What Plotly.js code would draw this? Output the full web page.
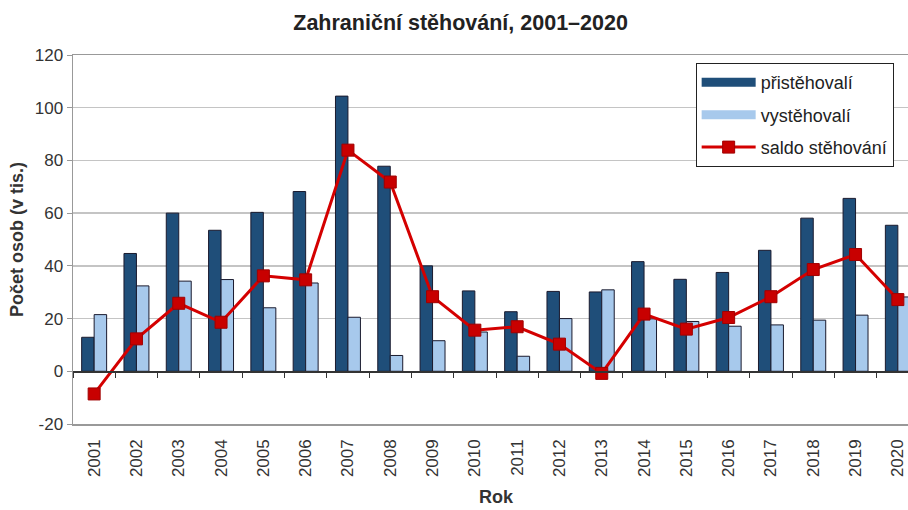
<!DOCTYPE html>
<html><head><meta charset="utf-8">
<script src="https://cdn.plot.ly/plotly-3.0.1.min.js"></script>
<style>html,body{margin:0;padding:0;overflow:hidden;background:#fff;width:908px;height:510px}#c{width:940px;height:510px}</style>
</head><body><div id="c"></div>
<script>
var years = ['2001','2002','2003','2004','2005','2006','2007','2008','2009','2010','2011','2012','2013','2014','2015','2016','2017','2018','2019','2020'];
var pristehovali = [12.9,44.7,60.0,53.5,60.3,68.2,104.4,77.8,40.0,30.5,22.6,30.3,30.1,41.6,34.9,37.5,45.9,58.1,65.6,55.4];
var vystehovali = [21.5,32.4,34.2,34.8,24.1,33.5,20.5,6.0,11.6,14.9,5.7,20.0,30.9,19.9,18.9,17.1,17.6,19.4,21.3,28.2];
var saldo = [-8.6,12.3,25.8,18.6,36.2,34.7,83.9,71.8,28.3,15.6,16.9,10.3,-0.8,21.7,16.0,20.4,28.3,38.6,44.3,27.2];
var yTickVals = [-20,0,20,40,60,80,100,120];
var yTickText = ['-20','0','20','40','60','80','100','120'];
var yMin = -20, yMax = 120;

var font = 'Liberation Sans, Arial, sans-serif';
var darkBlue = '#1f4e79', lightBlue = '#a7c9ec';
var traces = [
  {type:'bar', x:years, y:pristehovali, name:'přistěhovalí', showlegend:false,
   marker:{color:darkBlue, line:{color:'#1a1a2e', width:1}}},
  {type:'bar', x:years, y:vystehovali, name:'vystěhovalí', showlegend:false,
   marker:{color:lightBlue, line:{color:'#1a1a2e', width:1}}},
  /* legend-only entries drawn as wide bars, like the original legend */
  {type:'scatter', mode:'lines', x:[null], y:[null], name:'přistěhovalí', legendgroup:'a',
   line:{color:darkBlue, width:9}, hoverinfo:'skip'},
  {type:'scatter', mode:'lines', x:[null], y:[null], name:'vystěhovalí', legendgroup:'b',
   line:{color:lightBlue, width:9}, hoverinfo:'skip'},
  {type:'scatter', mode:'lines+markers', x:years, y:saldo, name:'saldo stěhování', legendgroup:'c',
   xaxis:'x2', line:{color:'#d40000', width:3},
   marker:{symbol:'square', size:12, color:'#c80000', line:{color:'#a00000', width:1}}}
];
var layout = {
  width:940, height:510,
  margin:{l:73, r:21, t:55, b:86},
  paper_bgcolor:'#fff', plot_bgcolor:'#fff',
  font:{family:font, color:'#333'},
  title:{text:'<b>Zahraniční stěhování, 2001–2020</b>', font:{size:21.5, color:'#222', family:font}, x:0.49, xanchor:'center', y:0.955, yanchor:'middle'},
  barmode:'group', bargap:0.41, bargroupgap:0,
  showlegend:true,
  legend:{x:0.736, y:0.978, xanchor:'left', yanchor:'top', bgcolor:'#fff', bordercolor:'#222', borderwidth:1,
    font:{size:18, color:'#222', family:font}, traceorder:'grouped', tracegroupgap:6, itemwidth:54},
  xaxis:{type:'category', range:[-0.5,19.5], tickangle:-90, ticks:'outside', ticklen:7, tickcolor:'rgba(0,0,0,0)',
    tickfont:{size:17, color:'#333'}, showline:true, linecolor:'#999', linewidth:1.5, mirror:true, showgrid:false,
    title:{text:'<b>Rok</b>', font:{size:18, color:'#333'}, standoff:14}},
  xaxis2:{type:'category', overlaying:'x', anchor:'free', position:(0-yMin)/(yMax-yMin), range:[-0.5,19.5],
    ticks:'outside', tickson:'boundaries', ticklen:5, tickcolor:'#333', showticklabels:false,
    showline:true, linecolor:'#333', linewidth:1.5, showgrid:false, side:'bottom'},
  yaxis:{range:[yMin,yMax], tickmode:'array', tickvals:yTickVals, ticktext:yTickText, ticks:'outside', ticklen:5, tickcolor:'#999',
    tickfont:{size:17, color:'#333'}, showline:true, linecolor:'#999', linewidth:1.5, mirror:true,
    showgrid:true, gridcolor:'#c4c4c4', gridwidth:1.5, zeroline:false,
    title:{text:'<b>Počet osob (v tis.)</b>', font:{size:18, color:'#333'}, standoff:6}}
};
Plotly.newPlot('c', traces, layout, {displayModeBar:false, staticPlot:true});
</script></body></html>
